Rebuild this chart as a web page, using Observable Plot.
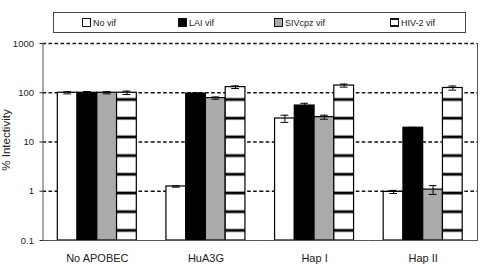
<!DOCTYPE html>
<html>
<head>
<meta charset="utf-8">
<script src="https://cdn.jsdelivr.net/npm/d3@7"></script>
<script src="https://cdn.jsdelivr.net/npm/@observablehq/plot@0.6"></script>
<style>
  html, body { margin: 0; padding: 0; background: #fff; }
  #wrap { position: relative; width: 482px; height: 264px; font-family: "Liberation Sans", Arial, sans-serif; color: #222; }
  #legend { position: absolute; left: 53px; top: 12px; width: 413px; height: 21px; border: 1px solid #444; box-sizing: border-box; }
  .item { position: absolute; top: 5px; font-size: 9px; line-height: 10px; white-space: nowrap; }
  .sw { display: inline-block; width: 7px; height: 7px; border: 1px solid #111; vertical-align: -1px; margin-right: 2px; box-sizing: content-box; }
  #ylabel { position: absolute; left: 6px; top: 140px; transform: translate(-50%, -50%) rotate(-90deg); font-size: 11.5px; white-space: nowrap; }
</style>
</head>
<body>
<svg width="0" height="0" style="position:absolute">
  <defs>
    <pattern id="hatch" patternUnits="userSpaceOnUse" width="40" height="18.7">
      <rect x="0" y="0" width="40" height="18.7" fill="#fff"></rect>
      <rect x="0" y="4.6" width="40" height="2.8" fill="#000"></rect>
    </pattern>
  </defs>
</svg>
<div id="wrap">
  <div id="chart"></div>
  <div id="legend"></div>
  <div id="ylabel">% Intectivity</div>
</div>
<script>
const categories = ["No APOBEC", "HuA3G", "Hap I", "Hap II"];
const series = ["No vif", "LAI vif", "SIVcpz vif", "HIV-2 vif"];
const noVif      = [100, 1.25, 30, 0.97];
const laiVif     = [100, 96, 55, 19.5];
const sivcpzVif  = [100, 78, 32, 1.08];
const hiv2Vif    = [100, 130, 140, 125];
const noVifErr     = [5, 0.04, 5, 0.07];
const laiVifErr    = [6, 3, 6, 0.3];
const sivcpzVifErr = [5, 4, 3, 0.22];
const hiv2VifErr   = [8, 8, 10, 12];
const yTicks = [0.1, 1, 10, 100, 1000];
const gridTicks = [1, 10, 100, 1000];
const fills = ["#ffffff", "#000000", "#aaaaaa", "url(#hatch)"];
const legendSwatches = ["#ffffff", "#000000", "#aaaaaa", "hatch"];
const legendX = [28, 124, 220, 336];

const values = [noVif, laiVif, sivcpzVif, hiv2Vif];
const errs = [noVifErr, laiVifErr, sivcpzVifErr, hiv2VifErr];
const rows = [];
categories.forEach((c, i) => series.forEach((s, j) => {
  rows.push({cat: c, series: s, value: values[j][i], lo: values[j][i] - errs[j][i], hi: values[j][i] + errs[j][i]});
}));
const base = yTicks[0];

const chart = Plot.plot({
  width: 482,
  height: 264,
  marginLeft: 42.5,
  marginRight: 5,
  marginTop: 43,
  marginBottom: 24,
  style: {fontFamily: "Liberation Sans, Arial, sans-serif", color: "#222", background: "transparent"},
  fx: {domain: categories, padding: 0, round: false, label: null},
  x: {domain: series, paddingInner: 0, paddingOuter: 0.75, round: false, axis: null},
  y: {type: "log", domain: [0.1, 1000], axis: null},
  color: {domain: series, range: fills},
  marks: [
    Plot.ruleY(gridTicks, {stroke: "#111", strokeWidth: 1.3, strokeDasharray: "3.6,2.4"}),
    Plot.barY(rows, {fx: "cat", x: "series", y1: base, y2: "value", fill: "series", stroke: "#000", strokeWidth: 1.2}),
    Plot.ruleX(rows, {fx: "cat", x: "series", y1: "lo", y2: "hi", stroke: "#000", strokeWidth: 1}),
    Plot.tickY(rows, {fx: "cat", x: "series", y: "lo", stroke: "#000", strokeWidth: 1, insetLeft: 6, insetRight: 6}),
    Plot.tickY(rows, {fx: "cat", x: "series", y: "hi", stroke: "#000", strokeWidth: 1, insetLeft: 6, insetRight: 6}),
    Plot.ruleY([base], {stroke: "#555", strokeWidth: 1}),
    Plot.frame({anchor: "left", facetAnchor: "left", stroke: "#555"}),
    Plot.frame({anchor: "right", facetAnchor: "right", stroke: "#555"}),
    Plot.axisY({ticks: yTicks, tickFormat: d => String(d), tickSize: 3, tickPadding: 6, fontSize: 9.5, label: null}),
    Plot.axisFx({anchor: "bottom", tickSize: 0, tickPadding: 14, fontSize: 11, label: null})
  ]
});
document.getElementById("chart").appendChild(chart);

const legend = document.getElementById("legend");
series.forEach((s, i) => {
  const item = document.createElement("div");
  item.className = "item";
  item.style.left = legendX[i] + "px";
  const sw = document.createElement("span");
  sw.className = "sw";
  if (legendSwatches[i] === "hatch") {
    sw.style.background = "#fff";
    sw.style.borderTopWidth = "2px";
    sw.style.borderBottomWidth = "2px";
    sw.style.height = "5px";
  } else {
    sw.style.background = legendSwatches[i];
  }
  item.appendChild(sw);
  item.appendChild(document.createTextNode(s));
  legend.appendChild(item);
});
</script>
</body>
</html>
